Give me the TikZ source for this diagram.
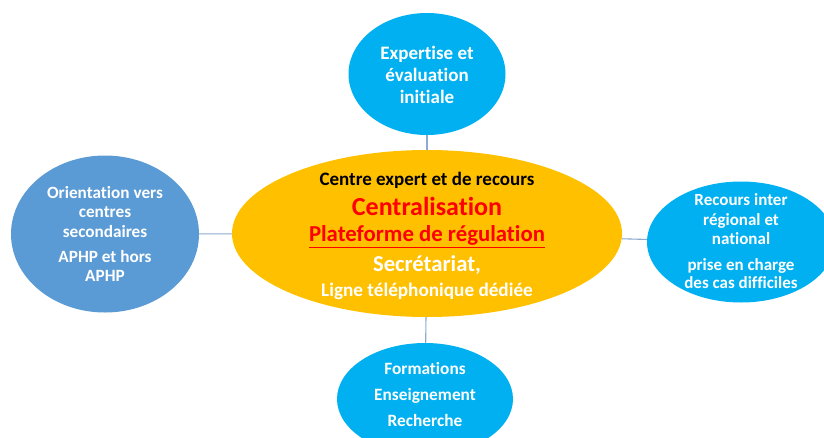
\documentclass[tikz,border=0pt]{standalone}
\usepackage{fontspec}
\setmainfont[Ligatures=NoCommon]{Carlito}
\usetikzlibrary{shapes.geometric}
\definecolor{hubgold}{HTML}{FFC000}
\definecolor{skyblue}{HTML}{00B0F0}
\definecolor{steelblue}{HTML}{5B9BD5}
\definecolor{linkblue}{HTML}{8EA9CF}
\definecolor{alertred}{HTML}{FF0000}

\begin{document}
\begin{tikzpicture}[x=1pt,y=-1pt,
  bubble/.style={ellipse, draw=none, inner sep=0pt},
  bubbletext/.style={align=center, text=white, inner sep=0pt,
    font=\bfseries\fontsize{#1}{#1}\selectfont},
  hubline/.style={anchor=base, inner sep=0pt, font=\bfseries\fontsize{#1}{#1}\selectfont},
  link/.style={draw=linkblue, line width=1.1pt}]
\useasboundingbox (0,0) rectangle (824,437);
\clip (0,0) rectangle (824,437);

% central hub
\node[bubble, fill=hubgold, minimum width=390pt, minimum height=167pt] (hub) at (427,233.5) {};
\node[hubline=19] (hubA) at (427,185) {Centre expert et de recours};
\node[hubline=26, text=alertred] (hubB) at (427,215.5) {Centralisation};
\node[hubline=22.8, text=alertred] (hubC) at (427,241.5) {\underline{Plateforme de régulation}};
\node[hubline=22.7, text=white] (hubD) at (427,271.5) {Secrétariat,};
\node[hubline=19.2, text=white] (hubE) at (427,296) {Ligne téléphonique dédiée};

% satellites
\node[bubble, fill=skyblue, minimum width=157pt, minimum height=122pt] (top) at (427,74) {};
\node[bubbletext=19] (topT) at (427,75)
  {Expertise et\\[3pt]évaluation\\[3pt]initiale};

\node[bubble, fill=steelblue, minimum width=188pt, minimum height=157pt] (left) at (105,234) {};
\node[bubbletext=17.2] (leftT) at (105,234)
  {Orientation vers\\[2.5pt]centres\\[2.5pt]secondaires\\[7.5pt]APHP et hors\\[2.5pt]APHP};

\node[bubble, fill=skyblue, minimum width=188pt, minimum height=121pt] (right) at (741,242) {};
\node[bubbletext=17] (rightT) at (741,241.5)
  {Recours inter\\[2.5pt]régional et\\[2.5pt]national\\[9pt]prise en charge\\[1pt]des cas difficiles};

\node[bubble, fill=skyblue, minimum width=176pt, minimum height=112pt] (bottom) at (425,399) {};
\node[bubbletext=17.3] (bottomT) at (425,394.5)
  {Formations\\[8.7pt]Enseignement\\[8.7pt]Recherche};

% connectors
\draw[link] (top) -- (hub);
\draw[link] (left) -- (hub);
\draw[link] (hub) -- (right);
\draw[link] (hub) -- (bottom);
\end{tikzpicture}
\end{document}
